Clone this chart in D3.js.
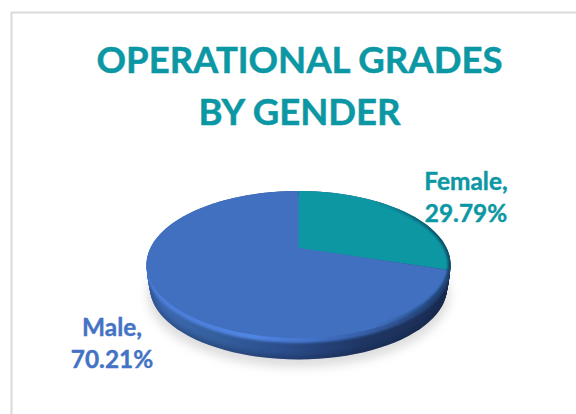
<!DOCTYPE html>
<html>
<head>
<meta charset="utf-8">
<script src="https://cdn.jsdelivr.net/npm/d3@7"></script>
<style>
  html, body { margin: 0; padding: 0; background: #fff; }
  svg { display: block; }
  text { font-family: Lato, "Open Sans", sans-serif; font-weight: 700; stroke-linejoin: round; }
</style>
</head>
<body>
<svg id="chart" width="576" height="414"></svg>
<script>
var categories = ['Female', 'Male'];
var shares = [29.79, 70.21];
var shareLabels = ['29.79%', '70.21%'];
var titleLines = ['OPERATIONAL GRADES', 'BY GENDER'];

var colors = d3.scaleOrdinal().domain(categories).range(['#0b97a3', '#416fbf']);
var labelColors = d3.scaleOrdinal().domain(categories).range(['#0b97a3', '#4472c4']);

var svg = d3.select('#chart');
var defs = svg.append('defs');

// frame of the chart area, runs off the right and bottom of the picture
svg.append('path')
    .attr('d', 'M11.5,420V12.5H580')
    .attr('fill', 'none')
    .attr('stroke', '#d9d9d9')
    .attr('stroke-width', 2);

// tilted disc with some perspective, the apex sits above the ellipse centre
var cx = 298.5, apexY = 248;
var k = 0.2245, a = 69.8, b = 148.1;
var depth = 24;

var project = function(angle, r, shift) {
    var u = Math.sin(angle) * r;
    var v = -Math.cos(angle) * r;
    var w = 1 / (1 - k * v);
    return [cx + b * u * w, apexY + a * v * w + shift];
};

var line = d3.line();

var discPath = function(r, shift) {
    var pts = d3.range(0, 361, 3).map(function(d) {
        return project(d * Math.PI / 180, r, shift);
    });
    return line(pts) + 'Z';
};

var slicePath = function(d, r) {
    var n = Math.ceil((d.endAngle - d.startAngle) * 60);
    var pts = [project(0, 0, 0)];
    for (var i = 0; i <= n; ++i) {
        pts.push(project(d.startAngle + (d.endAngle - d.startAngle) * i / n, r, 0));
    }
    return line(pts) + 'Z';
};

var gradient = function(id, stops) {
    var g = defs.append('linearGradient')
        .attr('id', id)
        .attr('gradientUnits', 'userSpaceOnUse')
        .attr('x1', 147).attr('x2', 450).attr('y1', 0).attr('y2', 0);
    stops.forEach(function(s) {
        g.append('stop').attr('offset', s[0]).attr('stop-color', s[1])
            .attr('stop-opacity', s[2] === undefined ? 1 : s[2]);
    });
};

var blur = function(id, size) {
    defs.append('filter').attr('id', id)
        .attr('x', '-20%').attr('y', '-20%').attr('width', '140%').attr('height', '140%')
        .append('feGaussianBlur').attr('stdDeviation', size);
};

gradient('wall', [[0, '#3f6bb8'], [0.2, '#36619f'], [0.45, '#2b4d8b'], [0.7, '#1f3765'], [1, '#1a2c52']]);
gradient('rim', [[0, '#4a7dd6'], [0.35, '#5085e2'], [0.55, '#4272c8'], [0.8, '#2f5596'], [1, '#1f3a68']]);
gradient('edge', [[0, '#0a2a4a', 0], [0.75, '#0a2a4a', 0], [1, '#0a2a4a', 0.75]]);

blur('soft', 5);
blur('soft3', 2.5);
blur('soft2', 1.2);
blur('soft1', 0.7);

// shadow on the floor
svg.append('path')
    .attr('d', discPath(0.995, depth + 6))
    .attr('fill', '#c8c8c8')
    .attr('opacity', 0.6)
    .attr('filter', 'url(#soft)');

// side wall, stacked discs getting a bit narrower to the bottom
var wallRadius = function(d) { return 1 - 0.022 * Math.pow(d / depth, 1.5); };
var wallClip = defs.append('clipPath').attr('id', 'wallClip');
var wall = svg.append('g').attr('fill', 'url(#wall)');
d3.range(depth, -1, -1).forEach(function(d) {
    wall.append('path').attr('d', discPath(wallRadius(d), d));
    wallClip.append('path').attr('d', discPath(wallRadius(d), d));
});

// darker along the foot of the wall
svg.append('g').attr('clip-path', 'url(#wallClip)')
    .append('path')
    .attr('d', discPath(wallRadius(depth), depth))
    .attr('fill', 'none')
    .attr('stroke', '#101c38')
    .attr('stroke-width', 5)
    .attr('opacity', 0.4)
    .attr('filter', 'url(#soft3)');

var pie = d3.pie().sort(null)
    .value(function(d, i) { return shares[i]; })(categories);

// lit bevel between the top and the wall
svg.append('g').attr('clip-path', 'url(#wallClip)')
    .append('path')
    .attr('d', discPath(1, 5))
    .attr('fill', 'url(#rim)')
    .attr('filter', 'url(#soft2)');

var topFace = svg.append('g').attr('filter', 'url(#soft1)');
topFace.selectAll('path')
    .data(pie)
    .join('path')
    .attr('d', function(d) { return slicePath(d, 1); })
    .attr('fill', function(d) { return colors(d.data); });

// the top face turns dark where it rolls over on the right
defs.append('clipPath').attr('id', 'faceClip').append('path').attr('d', discPath(1, 0));
svg.append('g').attr('clip-path', 'url(#faceClip)')
    .append('path')
    .attr('d', discPath(1, 0))
    .attr('fill', 'none')
    .attr('stroke', 'url(#edge)')
    .attr('stroke-width', 5)
    .attr('filter', 'url(#soft2)');

// title
svg.append('g')
    .attr('text-anchor', 'middle')
    .attr('fill', '#0b97a3')
    .attr('stroke', '#0b97a3')
    .attr('stroke-width', 0.5)
    .attr('font-size', 36.5)
    .selectAll('text')
    .data(titleLines)
    .join('text')
    .attr('x', 299.5)
    .attr('y', function(d, i) { return 73 + i * 52; })
    .text(function(d) { return d; });

// data labels
var labelSpots = { Female: [466, 190], Male: [112, 336] };
categories.forEach(function(c, i) {
    var spot = labelSpots[c];
    var t = svg.append('text')
        .attr('text-anchor', 'middle')
        .attr('fill', labelColors(c))
        .attr('stroke', labelColors(c))
        .attr('stroke-width', 0.4)
        .attr('font-size', 24.4);
    t.append('tspan').attr('x', spot[0]).attr('y', spot[1]).text(c + ',');
    t.append('tspan').attr('x', spot[0]).attr('y', spot[1] + 32).text(shareLabels[i]);
});
</script>
</body>
</html>
